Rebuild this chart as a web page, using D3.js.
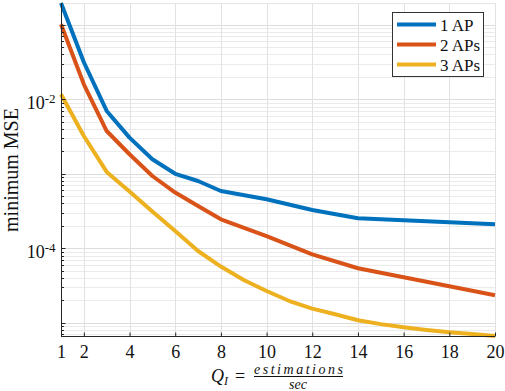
<!DOCTYPE html>
<html>
<head>
<meta charset="utf-8">
<script src="https://cdn.jsdelivr.net/npm/d3@7"></script>
<style>
  body { margin: 0; background: #fff; }
  svg { display: block; }
  svg text { font-family: "Liberation Serif", "DejaVu Serif", serif; }
</style>
</head>
<body>
<div id="chart"></div>
<script>
// data
const qiAB = [1, 2, 3, 4, 5, 6, 7, 8, 10, 12, 14, 16, 18, 20];
const mse1AP = [0.196, 0.0314, 6.97e-3, 3.06e-3, 1.57e-3, 1.0e-3, 8.0e-4, 5.88e-4, 4.55e-4, 3.27e-4, 2.53e-4, 2.38e-4, 2.24e-4, 2.1e-4];
const mse2AP = [0.1017, 0.0159, 3.75e-3, 1.83e-3, 9.34e-4, 5.6e-4, 3.7e-4, 2.45e-4, 1.46e-4, 8.3e-5, 5.4e-5, 4.08e-5, 3.09e-5, 2.34e-5];
const qiC = [1, 2, 3, 4, 5, 6, 7, 8, 9, 10, 11, 12, 13, 14, 15, 16, 17, 18, 19, 20];
const mse3AP = [0.01167, 3.21e-3, 1.06e-3, 5.77e-4, 3.11e-4, 1.71e-4, 9.2e-5, 5.68e-5, 3.76e-5, 2.67e-5, 1.96e-5, 1.55e-5, 1.3e-5, 1.08e-5, 9.6e-6, 8.7e-6, 8.0e-6, 7.46e-6, 7.05e-6, 6.65e-6];
const seriesNames = ['1 AP', '2 APs', '3 APs'];
const xTicks = [1, 2, 4, 6, 8, 10, 12, 14, 16, 18, 20];
const yLabelExps = [-4, -2];

const colors = ['#0072BD', '#D95319', '#EDB120'];
const series = [[qiAB, mse1AP], [qiAB, mse2AP], [qiC, mse3AP]].map(([xs, vals], i) => ({
    name: seriesNames[i],
    color: colors[i],
    values: xs.map((q, j) => ({ q: q, v: vals[j] }))
}));

const W = 505, H = 391;
const svg = d3.select('#chart').append('svg')
    .attr('width', W)
    .attr('height', H);

const x = d3.scaleLinear().domain([1, 20]).range([61, 495]);
const y = d3.scaleLog().domain([6.65e-6, 0.196]).range([336, 3]);

// grid lines
const minorVals = [];
const majorVals = [];
for (let e = -6; e <= 0; e++) {
    for (let k = 1; k <= 9; k++) {
        const v = k * Math.pow(10, e);
        if (v < y.domain()[0] || v > y.domain()[1]) continue;
        (k === 1 ? majorVals : minorVals).push(v);
    }
}

const grid = svg.append('g');
grid.selectAll('.ymin').data(minorVals).enter().append('line')
    .attr('x1', 61).attr('x2', 495)
    .attr('y1', d => Math.round(y(d)) + 0.5).attr('y2', d => Math.round(y(d)) + 0.5)
    .attr('stroke', '#ebebeb').attr('stroke-width', 1);
grid.selectAll('.ymaj').data(majorVals).enter().append('line')
    .attr('x1', 61).attr('x2', 495)
    .attr('y1', d => Math.round(y(d)) + 0.5).attr('y2', d => Math.round(y(d)) + 0.5)
    .attr('stroke', '#dcdcdc').attr('stroke-width', 1);
grid.selectAll('.xg').data(xTicks).enter().append('line')
    .attr('x1', d => Math.round(x(d)) + 0.5).attr('x2', d => Math.round(x(d)) + 0.5)
    .attr('y1', 3).attr('y2', 336)
    .attr('stroke', '#e2e2e2').attr('stroke-width', 1);
grid.append('line').attr('x1', 61).attr('x2', 495).attr('y1', 3.5).attr('y2', 3.5)
    .attr('stroke', '#e6e6e6');

// series
const line = d3.line().x(d => x(d.q)).y(d => y(d.v));
svg.append('g').selectAll('path').data(series).enter().append('path')
    .attr('d', d => line(d.values))
    .attr('fill', 'none')
    .attr('stroke', d => d.color)
    .attr('stroke-width', 4)
    .attr('stroke-linejoin', 'round');

// axes
const axisColor = '#262626';
const xAxis = svg.append('g')
    .attr('transform', 'translate(0,336.5)')
    .call(d3.axisBottom(x).tickValues(xTicks).tickSize(-4).tickFormat(d3.format('d')).tickPadding(9))
    .attr('font-family', null).attr('font-size', null);
xAxis.select('.domain').attr('stroke', axisColor).attr('d', 'M61,0H495');
xAxis.selectAll('.tick line').attr('stroke', axisColor);
xAxis.selectAll('.tick text').attr('fill', '#111').style('font-size', '18px');

const yAxis = svg.append('g').attr('transform', 'translate(61.5,0)');
yAxis.append('line').attr('y1', 3).attr('y2', 336).attr('stroke', axisColor);
yAxis.selectAll('.mt').data(minorVals.concat(majorVals)).enter().append('line')
    .attr('x1', 0).attr('x2', d => majorVals.includes(d) ? 4 : 2.5)
    .attr('y1', d => Math.round(y(d)) + 0.5).attr('y2', d => Math.round(y(d)) + 0.5)
    .attr('stroke', axisColor);

const yl = yAxis.selectAll('.yl').data(yLabelExps).enter().append('text')
    .attr('x', -6)
    .attr('y', d => y(Math.pow(10, d)) + 10)
    .attr('text-anchor', 'end')
    .attr('fill', '#111')
    .style('font-size', '18px');
yl.append('tspan').text('10');
yl.append('tspan').attr('dy', -6).style('font-size', '13px').text(d => '-' + Math.abs(d));

// axis labels
svg.append('text')
    .attr('transform', 'translate(18,170) rotate(-90)')
    .attr('text-anchor', 'middle')
    .attr('fill', '#111')
    .style('font-size', '20px')
    .text('minimum MSE');

const xl = svg.append('g').attr('fill', '#111');
const q = xl.append('text').attr('x', 211).attr('y', 382).style('font-size', '18px').style('font-style', 'italic');
q.append('tspan').text('Q');
q.append('tspan').attr('dy', 3).style('font-size', '12px').text('I');
xl.append('text').attr('x', 235).attr('y', 382).style('font-size', '18px').text('=');
xl.append('text').attr('x', 254).attr('y', 374).attr('textLength', 89).attr('lengthAdjust', 'spacing')
    .style('font-size', '14px').style('font-style', 'italic').text('estimations');
xl.append('line').attr('x1', 254).attr('x2', 343).attr('y1', 376.5).attr('y2', 376.5)
    .attr('stroke', '#111').attr('stroke-width', 1);
xl.append('text').attr('x', 298).attr('y', 389).attr('text-anchor', 'middle')
    .style('font-size', '14px').style('font-style', 'italic').text('sec');

// legend
const legend = svg.append('g');
legend.append('rect')
    .attr('x', 392.5).attr('y', 12.5).attr('width', 91).attr('height', 64)
    .attr('fill', '#fff').attr('stroke', '#333').attr('stroke-width', 1);
const li = legend.selectAll('.li').data(series).enter().append('g')
    .attr('transform', (d, i) => `translate(0,${24.5 + i * 20})`);
li.append('line').attr('x1', 397).attr('x2', 436).attr('y1', 0).attr('y2', 0)
    .attr('stroke', d => d.color).attr('stroke-width', 4);
li.append('text').attr('x', 440).attr('y', 6).attr('fill', '#111')
    .style('font-size', '17px').text(d => d.name);
</script>
</body>
</html>
